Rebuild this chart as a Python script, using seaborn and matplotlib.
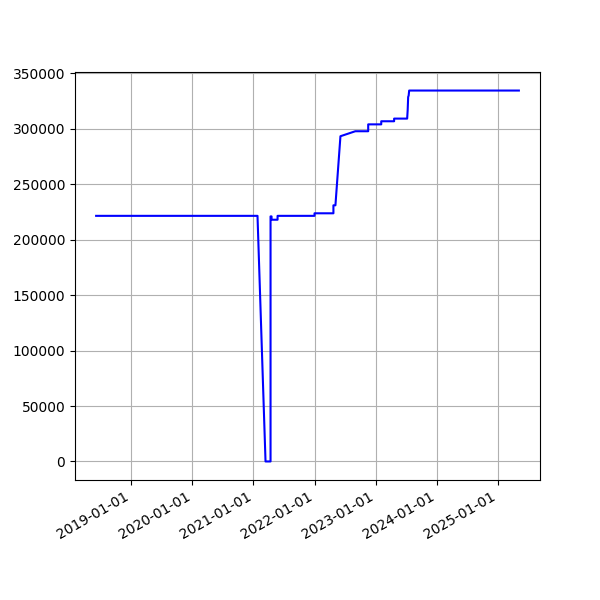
import numpy as np
import pandas as pd
import seaborn as sns
import matplotlib
matplotlib.use("Agg")
import matplotlib.pyplot as plt
import matplotlib.dates as mdates

# balance history
dates = [
    "2018-06-05", "2021-01-25", "2021-03-14", "2021-04-13", "2021-04-13",
    "2021-04-19", "2021-04-19", "2021-05-25", "2021-05-25", "2022-01-01",
    "2022-01-01", "2022-04-24", "2022-04-24", "2022-05-06", "2022-06-05",
    "2022-09-02", "2022-11-18", "2022-11-18", "2023-02-04", "2023-02-04",
    "2023-04-22", "2023-04-22", "2023-07-09", "2023-07-12", "2023-07-15",
    "2023-07-18", "2023-07-21", "2025-05-07",
]
balance = [
    221500, 221500, 0, 0, 221000,
    221000, 218000, 218000, 221500, 221500,
    223800, 223800, 231000, 231000, 293300,
    297800, 297800, 304000, 304000, 306800,
    306800, 309200, 309200, 316700, 328700,
    330000, 334500, 334500,
]

df = pd.DataFrame({"date": pd.to_datetime(dates), "balance": balance})

fig, ax = plt.subplots(figsize=(6, 6), dpi=100)
sns.lineplot(data=df, x="date", y="balance", estimator=None, sort=False,
             color="blue", linewidth=1.5, ax=ax)
ax.set_xlabel("")
ax.set_ylabel("")
ax.grid(True)
ax.xaxis.set_major_locator(mdates.YearLocator())
ax.xaxis.set_major_formatter(mdates.DateFormatter("%Y-%m-%d"))
fig.autofmt_xdate()
fig.savefig("out.png")
